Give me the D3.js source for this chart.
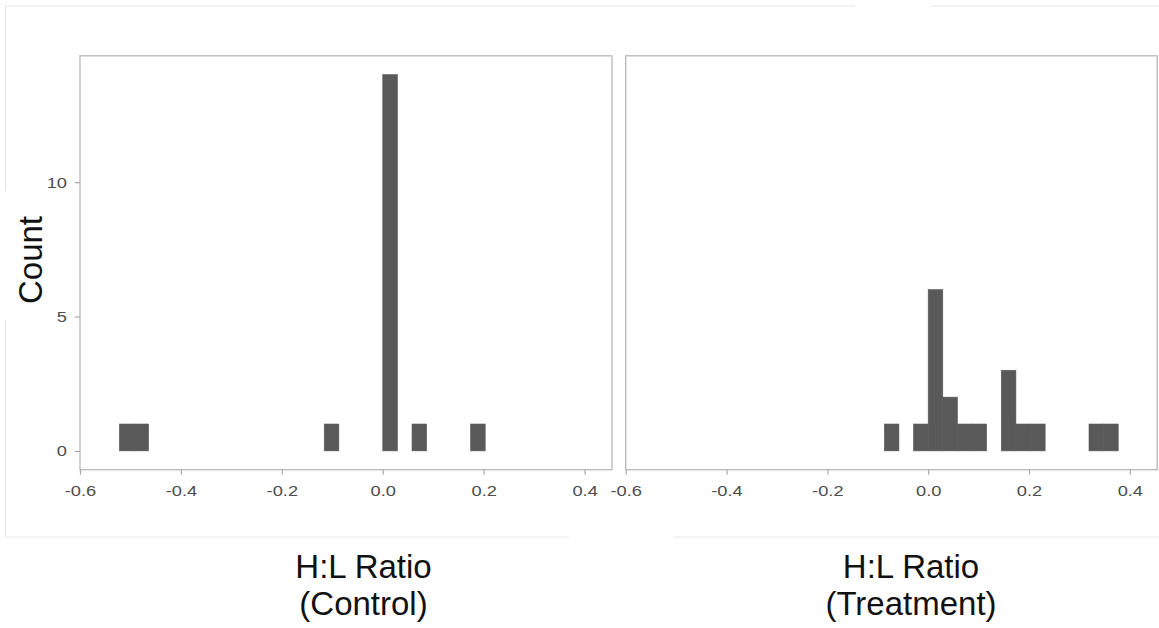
<!DOCTYPE html>
<html>
<head>
<meta charset="utf-8">
<script src="https://cdn.jsdelivr.net/npm/d3@7"></script>
<style>
	body { margin: 0; background: #fff; }
	text { font-family: "Liberation Sans", Arial, sans-serif; }
</style>
</head>
<body>
<svg id="chart" width="1159" height="628"></svg>
<script>
// histogram bins (lower edge of each non-empty bin) and counts
const binWidth = 0.029;
const controlBinStart = [-0.522, -0.493, -0.116, 0.000, 0.058, 0.174];
const controlCount = [1, 1, 1, 14, 1, 1];
const treatmentBinStart = [-0.087, -0.029, 0.000, 0.029, 0.058, 0.087, 0.145, 0.174, 0.203, 0.319, 0.348];
const treatmentCount = [1, 1, 6, 2, 1, 1, 3, 1, 1, 1, 1];

const xTicks = [-0.6, -0.4, -0.2, 0.0, 0.2, 0.4];
const yTicks = [0, 5, 10];
const panelTitles = [["H:L Ratio", "(Control)"], ["H:L Ratio", "(Treatment)"]];

var svg = d3.select("#chart");

const panelTop = 55.8, panelBottom = 469.7;
const panels = [
	{ left: 80, right: 612, starts: controlBinStart, counts: controlCount, titleX: 363.5, showY: true },
	{ left: 625.7, right: 1157.2, starts: treatmentBinStart, counts: treatmentCount, titleX: 911, showY: false }
];

let y = d3.scaleLinear().domain([-0.7, 14.7]).range([panelBottom, panelTop]);

// faint frame of the pasted plot image
const frame = svg.append("g").attr("stroke", "#e8e8e8").attr("stroke-width", 1).attr("fill", "none");
frame.append("path").attr("d", "M5.5,6 H855 M931,6 H1159");
frame.append("path").attr("d", "M5.5,6 V191 M5.5,320 V537");
frame.append("path").attr("d", "M5.5,537 H569 M673,537 H1159");

panels.forEach((p, i) => {
	let x = d3.scaleLinear().domain([-0.6, 0.4543]).range([p.left, p.right]);
	const g = svg.append("g");

	const bins = p.starts.map((s, j) => ({ x0: s, x1: s + binWidth, n: p.counts[j] }));
	g.selectAll(".bar")
		.data(bins)
		.enter()
		.append("rect")
		.attr("class", "bar")
		.attr("x", d => x(d.x0))
		.attr("width", d => x(d.x1) - x(d.x0))
		.attr("y", d => y(d.n))
		.attr("height", d => y(0) - y(d.n))
		.attr("fill", "#595959")
		.attr("stroke", "#595959")
		.attr("stroke-width", 0.6);

	g.append("rect")
		.attr("x", p.left)
		.attr("y", panelTop)
		.attr("width", p.right - p.left)
		.attr("height", panelBottom - panelTop)
		.attr("fill", "none")
		.attr("stroke", "#b8b8b8")
		.attr("stroke-width", 1.3);

	const xAxis = g.append("g")
		.attr("transform", `translate(0,${panelBottom})`)
		.call(d3.axisBottom(x).tickValues(xTicks).tickFormat(d => d.toFixed(1)).tickSize(5).tickPadding(10));
	xAxis.select(".domain").remove();
	xAxis.selectAll("line").attr("stroke", "#aaaaaa").attr("stroke-width", 1.2);
	xAxis.selectAll("text")
		.attr("fill", "#4d4d4d")
		.style("font-size", "15.5px")
		.attr("transform", "scale(1.18,1)");

	if (p.showY) {
		const yAxis = g.append("g")
			.attr("transform", `translate(${p.left},0)`)
			.call(d3.axisLeft(y).tickValues(yTicks).tickSize(5).tickPadding(6));
		yAxis.select(".domain").remove();
		yAxis.selectAll("line").attr("stroke", "#aaaaaa").attr("stroke-width", 1.2);
		yAxis.selectAll("text")
			.attr("fill", "#4d4d4d")
			.style("font-size", "15.5px")
			.attr("transform", "scale(1.18,1)");
	}

	const title = svg.append("text")
		.attr("text-anchor", "middle")
		.attr("fill", "#111")
		.style("font-size", "33px");
	title.append("tspan").attr("x", p.titleX).attr("y", 578).text(panelTitles[i][0]);
	title.append("tspan").attr("x", p.titleX).attr("y", 615).text(panelTitles[i][1]);
});

svg.append("text")
	.attr("transform", "translate(41.7,260) rotate(-90)")
	.attr("text-anchor", "middle")
	.attr("fill", "#111")
	.style("font-size", "33px")
	.text("Count");
</script>
</body>
</html>
